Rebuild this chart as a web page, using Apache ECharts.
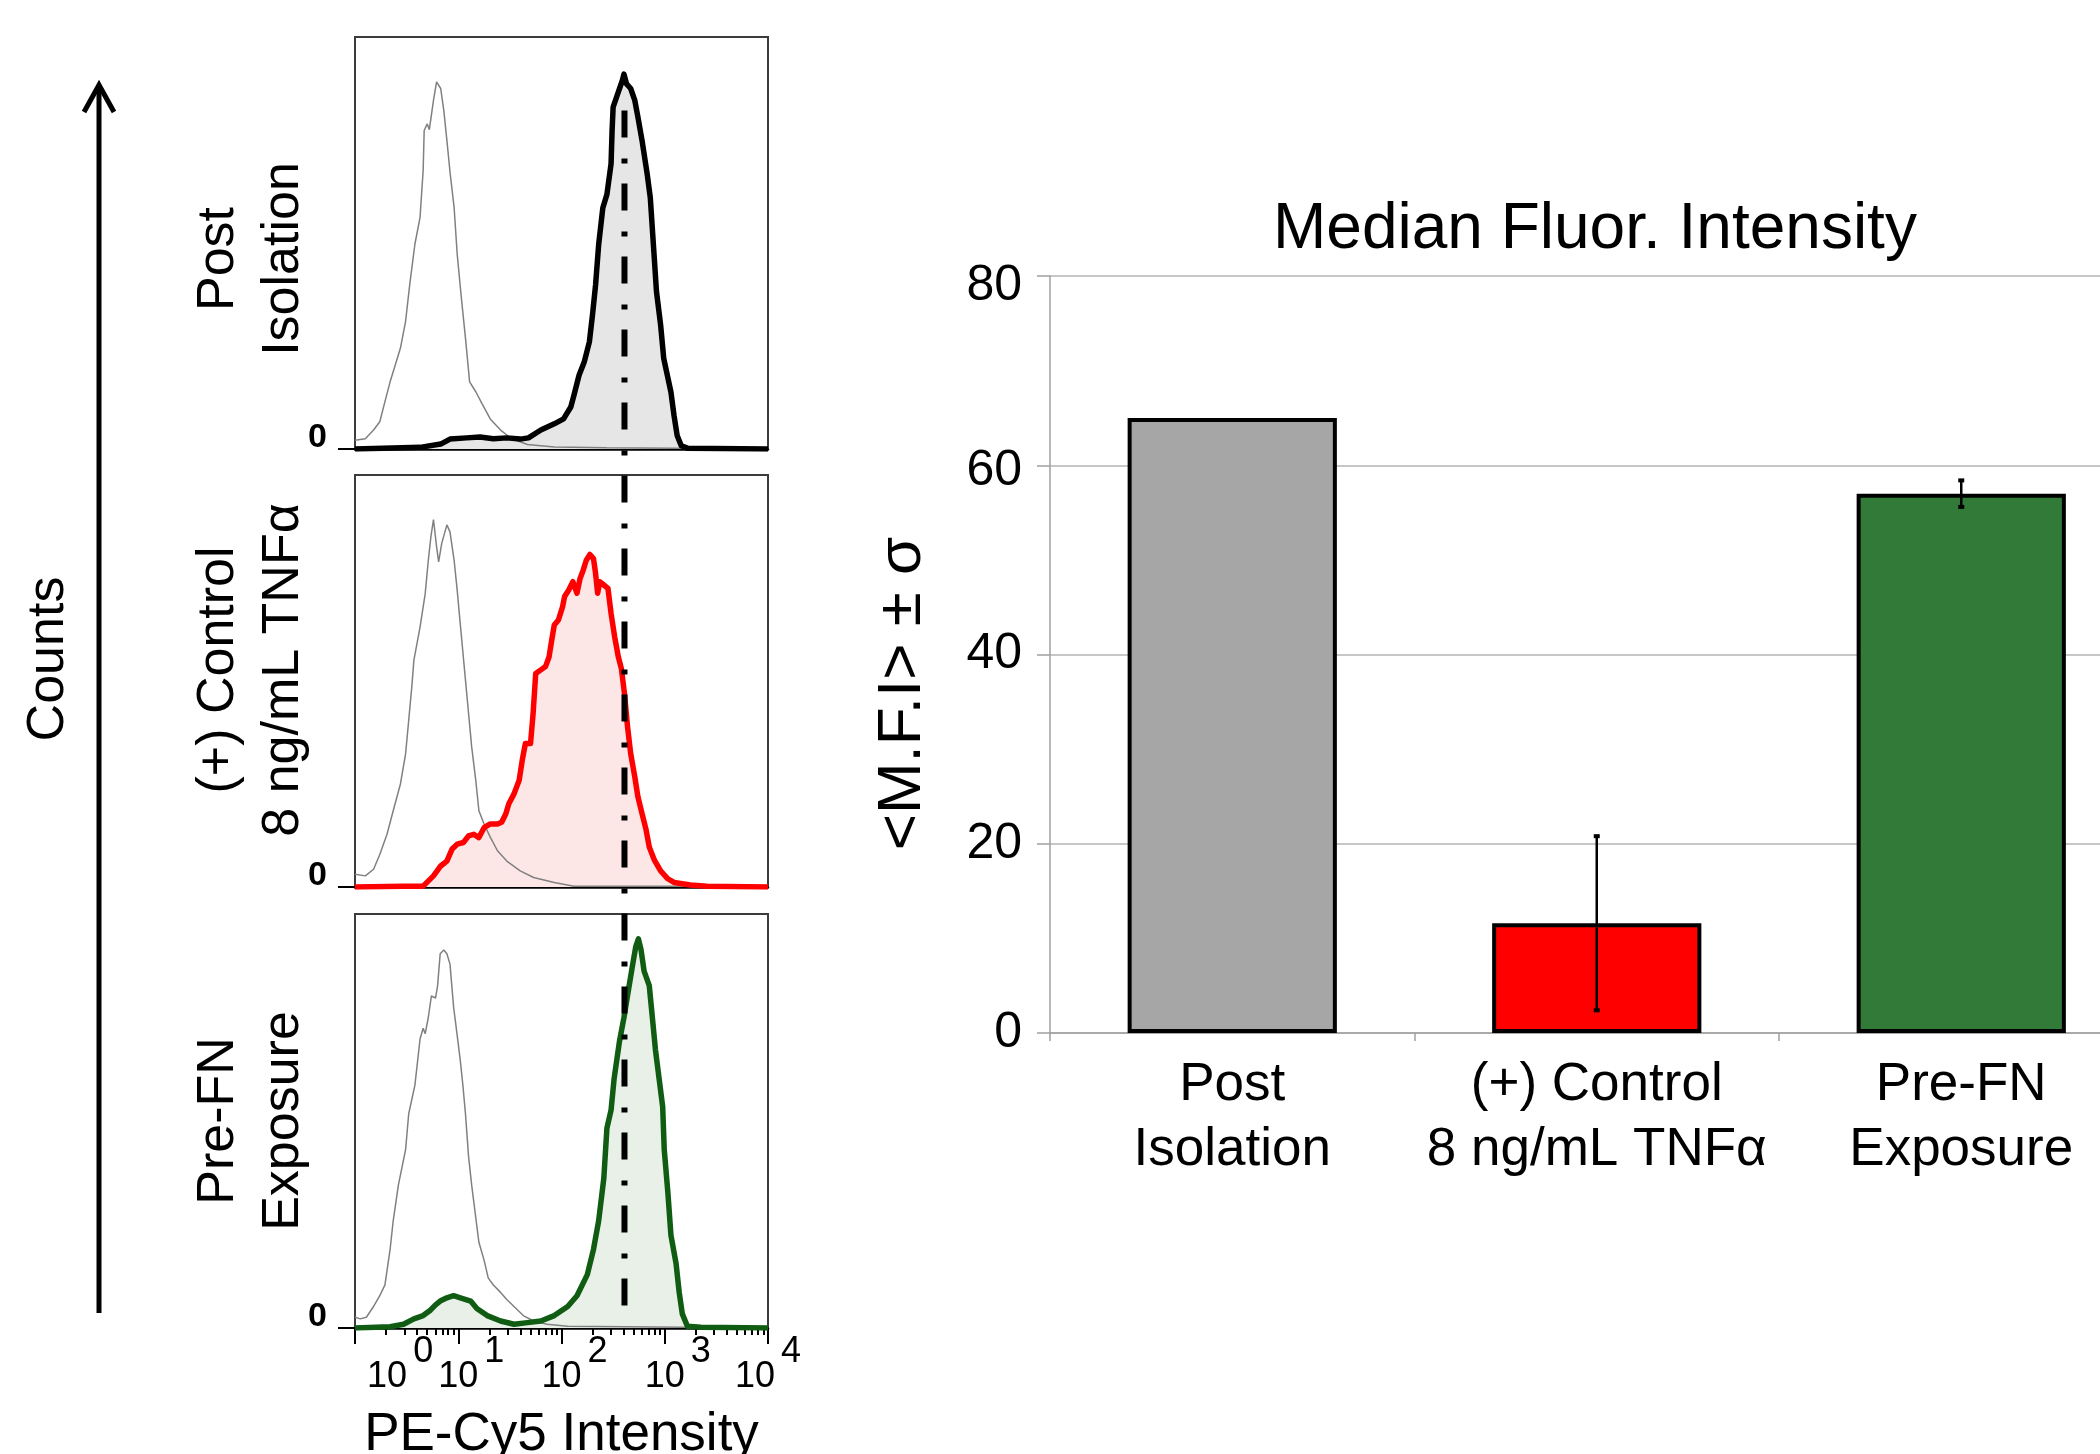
<!DOCTYPE html>
<html><head><meta charset="utf-8">
<script src="https://cdn.jsdelivr.net/npm/echarts@6/dist/echarts.min.js"></script>
<style>html,body{margin:0;padding:0;background:#fff}#c{width:2100px;height:1454px}</style>
</head><body><div id="c"></div><script>
// ---------- data ----------
// Histogram x values are log10(PE-Cy5 intensity); y values are relative counts (box top = 100)
const decadeExponents = [0, 1, 2, 3, 4];
const decadeLabelPositions = [0.437, 1.126, 2.126, 3.126, 4];
const panelNames = ['Post\nIsolation', '(+) Control\n8 ng/mL TNFα', 'Pre-FN\nExposure'];
const medianLogIntensity = 2.61;
const medianLineSpan = [0.943, 0.006];

const postIsolationControl = [[0,2.1],[0.10,2.5],[0.18,4.6],[0.24,6.6],[0.29,11.5],[0.34,16.3],[0.39,20.4],[0.44,24.5],[0.49,31],[0.53,39.9],[0.58,49.7],[0.63,56.2],[0.66,67.6],[0.67,77.3],[0.70,78.9],[0.72,77.5],[0.76,84.6],[0.79,89.1],[0.83,87.5],[0.86,82.2],[0.89,74.9],[0.92,67.3],[0.96,58.6],[0.99,47.2],[1.03,36.7],[1.07,26.9],[1.11,16.3],[1.17,13.9],[1.23,11],[1.31,7.3],[1.41,4.6],[1.51,2.6],[1.67,1.1],[1.93,0.5],[2.44,0.3],[3.09,0.2],[4,0]];
const postIsolationSample = [[0,0],[0.63,0.4],[0.83,1.2],[0.92,2.4],[1.08,2.7],[1.21,2.9],[1.34,2.5],[1.47,2.7],[1.60,2.4],[1.68,2.7],[1.80,4.6],[1.93,6.1],[2.02,7.3],[2.09,10.2],[2.12,13],[2.17,17.9],[2.22,21.1],[2.27,26],[2.30,32.5],[2.33,39.8],[2.36,49.6],[2.40,58.5],[2.44,61.8],[2.48,69.2],[2.49,77.3],[2.50,83],[2.54,85.9],[2.59,89.5],[2.605,91],[2.63,88.6],[2.67,87.5],[2.71,84.6],[2.74,80.6],[2.78,74.9],[2.83,66.7],[2.86,61],[2.89,49.6],[2.92,38.2],[2.96,30.1],[2.99,22],[3.06,13.8],[3.09,8.1],[3.12,3.3],[3.16,0.8],[3.22,0.2],[4,0]];

const tnfControl = [[0,3.1],[0.10,2.7],[0.18,4.3],[0.24,7.9],[0.31,12.8],[0.37,18.5],[0.44,25],[0.49,32.3],[0.52,40.4],[0.55,48.5],[0.57,55],[0.63,63.1],[0.68,71.2],[0.71,79.3],[0.735,85],[0.76,89.2],[0.79,82.6],[0.81,78.9],[0.84,83.4],[0.89,87.9],[0.92,86.2],[0.96,79.3],[0.99,72],[1.01,66.4],[1.04,58.3],[1.07,50.2],[1.10,42.1],[1.13,34],[1.17,25.8],[1.20,18.5],[1.25,15.3],[1.31,12.1],[1.38,8.8],[1.47,6.3],[1.60,3.9],[1.73,2.3],[1.93,1.1],[2.12,0.2],[3.09,0.2],[4,0]];
const tnfSample = [[0,0],[0.47,0.2],[0.66,0.2],[0.76,2.7],[0.83,5.1],[0.89,6.3],[0.94,9.2],[0.99,10.4],[1.05,10.8],[1.10,12.4],[1.15,12.8],[1.20,12],[1.25,14.4],[1.31,15.3],[1.38,15.3],[1.42,15.7],[1.46,17.7],[1.49,20.2],[1.54,22.6],[1.59,25.9],[1.62,30.8],[1.65,34.8],[1.70,34.8],[1.725,42.1],[1.75,51.8],[1.80,52.7],[1.845,53.5],[1.88,55.9],[1.90,59.1],[1.93,63.6],[1.97,64.8],[2.01,68],[2.03,70.5],[2.07,72.1],[2.11,74.1],[2.15,71.3],[2.18,74.9],[2.21,76.9],[2.24,79.3],[2.275,80.7],[2.31,79.7],[2.33,76.1],[2.35,71.3],[2.37,74.1],[2.41,73.3],[2.45,72.5],[2.48,66.4],[2.515,60.7],[2.55,55.9],[2.58,53],[2.61,46.9],[2.64,38.8],[2.67,32.4],[2.71,26.7],[2.74,21.9],[2.78,17.8],[2.82,13.8],[2.85,9.7],[2.90,6.5],[2.96,3.9],[3.03,2],[3.09,1.1],[3.25,0.5],[3.41,0.2],[4,0]];

const preFnControl = [[0,2.6],[0.05,2.2],[0.11,2.6],[0.18,5.2],[0.24,7.8],[0.29,10.4],[0.34,19],[0.37,25.9],[0.42,34.5],[0.49,43.1],[0.52,51.7],[0.55,55.2],[0.58,58.6],[0.63,69.8],[0.66,72.4],[0.68,71.1],[0.71,75],[0.74,80.2],[0.78,79.7],[0.80,82.7],[0.825,90.4],[0.86,91.3],[0.89,90.4],[0.92,87.9],[0.955,77.5],[0.99,70.6],[1.02,64.6],[1.045,58.6],[1.07,51.7],[1.10,41.4],[1.13,34.5],[1.165,27.6],[1.20,20.7],[1.25,16.4],[1.29,12.1],[1.34,10.4],[1.41,8.6],[1.47,6.9],[1.54,5.2],[1.63,3],[1.73,1.7],[1.86,0.9],[2.06,0.4],[4,0]];
const preFnSample = [[0,0],[0.34,0.3],[0.47,0.9],[0.57,2.2],[0.66,3],[0.73,4.3],[0.78,5.6],[0.825,6.5],[0.89,7.3],[0.955,7.8],[1.02,7.3],[1.12,6.5],[1.18,4.7],[1.28,3],[1.41,1.7],[1.54,0.9],[1.67,1.3],[1.80,1.7],[1.93,3],[2.06,5.2],[2.15,7.8],[2.25,12.9],[2.31,19],[2.36,25.9],[2.41,36.2],[2.44,48.3],[2.48,52.6],[2.51,60.3],[2.56,69],[2.605,75],[2.65,81.9],[2.69,87.9],[2.72,92.2],[2.745,94],[2.77,91.4],[2.80,86.2],[2.85,82.7],[2.88,75],[2.91,67.2],[2.945,60.3],[2.98,53.4],[2.995,43.1],[3.03,32.8],[3.06,22.4],[3.11,15.5],[3.14,8.6],[3.17,3.4],[3.22,0.4],[3.35,0.2],[4,0]];

const barCategories = ['Post\nIsolation', '(+) Control\n8 ng/mL TNFα', 'Pre-FN\nExposure'];
const barValues = [65, 11.6, 57];
const barErrors = [0, 9.2, 1.4];

// ---------- styles ----------
const FONT = '"Liberation Sans", Arial, Helvetica, sans-serif';
const panelStyles = [
  {line: '#000000', fill: '#e6e6e6'},
  {line: '#ff0000', fill: '#fde6e6'},
  {line: '#0f5c12', fill: '#e8f0e8'}
];
const barColors = ['#a6a6a6', '#ff0000', '#327a37'];
const panelTops = [37, 475, 914];
const panelH = 412;
const panelLeft = 355, panelW = 413;

const chart = echarts.init(document.getElementById('c'), null, {renderer: 'canvas'});

const grids = [], xAxes = [], yAxes = [], series = [];
panelTops.forEach((t, i) => {
  grids.push({left: panelLeft, top: t, width: panelW, height: i === 2 ? 414 : panelH, show: true,
    borderColor: '#3c3c3c', borderWidth: 2, backgroundColor: 'transparent', outerBoundsMode: 'none', containLabel: false});
});
grids.push({left: panelLeft, top: panelTops[0], width: panelW, height: 1328 - panelTops[0], outerBoundsMode: 'none', containLabel: false});
grids.push({left: 1050, top: 276, right: -43.5, bottom: 421, outerBoundsMode: 'none', containLabel: false});

const minorTicks = [];
for (let k = 0; k < 4; k++) for (let m = 2; m <= 9; m++) minorTicks.push(k + Math.log10(m));

for (let i = 0; i < 3; i++) {
  xAxes.push({
    type: 'value', gridIndex: i, min: 0, max: 4,
    axisLine: {show: true, onZero: false, lineStyle: {color: '#000', width: 2.5}},
    axisTick: i === 2 ? {show: true, customValues: decadeExponents, length: 16, lineStyle: {color: '#000', width: 2}} : {show: false},
    axisLabel: i === 2 ? {
      show: true, customValues: decadeLabelPositions, margin: 6, showMinLabel: true, showMaxLabel: true, hideOverlap: false,
      formatter: v => '{b|10}{s|' + decadeExponents[Math.floor(v + 0.01)] + '}',
      rich: {
        b: {fontSize: 36, fontFamily: FONT, color: '#000', padding: [25, 0, 0, 0]},
        s: {fontSize: 36, fontFamily: FONT, color: '#000', padding: [0, 0, 25, 6]}
      }
    } : {show: false},
    splitLine: {show: false},
    name: i === 2 ? 'PE-Cy5 Intensity' : '', nameLocation: 'middle', nameGap: 81,
    nameTextStyle: {fontSize: 53, fontFamily: FONT, color: '#000'}
  });
}
xAxes.push({
  type: 'value', gridIndex: 2, min: 0, max: 4, position: 'bottom',
  axisLine: {show: false},
  axisTick: {show: true, customValues: minorTicks, length: 7, lineStyle: {color: '#000', width: 2}},
  axisLabel: {show: false}, splitLine: {show: false}
});
xAxes.push({type: 'value', gridIndex: 3, min: 0, max: 4, show: false});
xAxes.push({
  type: 'category', gridIndex: 4, data: barCategories,
  axisLine: {show: true, lineStyle: {color: '#a0a0a0', width: 1.5}},
  axisTick: {show: true, length: 8, alignWithLabel: false, lineStyle: {color: '#a0a0a0', width: 1.5}},
  axisLabel: {fontSize: 53, fontFamily: FONT, color: '#000', lineHeight: 65, margin: 20, interval: 0}
});

for (let i = 0; i < 3; i++) {
  yAxes.push({
    type: 'value', gridIndex: i, min: 0, max: 100,
    axisLine: {show: false}, axisTick: {show: false}, splitLine: {show: false},
    axisLabel: {show: true, customValues: [0], fontSize: 34, fontWeight: 'bold', fontFamily: FONT,
      color: '#000', margin: 28, verticalAlign: 'bottom', lineHeight: 22}
  });
}
yAxes.push({type: 'value', gridIndex: 3, min: 0, max: 1, show: false});
yAxes.push({
  type: 'value', gridIndex: 4, min: 0, max: 80, interval: 20,
  axisLine: {show: true, lineStyle: {color: '#a0a0a0', width: 1.5}},
  axisTick: {show: true, length: 13, lineStyle: {color: '#a0a0a0', width: 1.5}},
  splitLine: {show: true, lineStyle: {color: '#b4b4b4', width: 1.5}},
  axisLabel: {fontSize: 50, fontFamily: FONT, color: '#000', margin: 28,
    formatter: v => v === 80 ? '{lo|80}' : v === 60 ? '{mid|60}' : String(v),
    rich: {
      lo: {fontSize: 50, fontFamily: FONT, color: '#000', padding: [21, 0, 0, 0]},
      mid: {fontSize: 50, fontFamily: FONT, color: '#000', padding: [12, 0, 0, 0]}
    }},
  name: '<M.F.I> ± σ', nameLocation: 'middle', nameGap: 116, nameRotate: 90,
  nameTextStyle: {fontSize: 62, fontFamily: FONT, color: '#000', padding: [0, 78, 0, 0]}
});

const panelData = [
  [postIsolationControl, postIsolationSample],
  [tnfControl, tnfSample],
  [preFnControl, preFnSample]
];
panelData.forEach(([ctrl, sample], i) => {
  const st = panelStyles[i];
  series.push({type: 'line', xAxisIndex: i, yAxisIndex: i, data: sample, symbol: 'none', silent: true,
    lineStyle: {opacity: 0}, areaStyle: {color: st.fill, opacity: 1}, z: 2});
  series.push({type: 'line', xAxisIndex: i, yAxisIndex: i, data: ctrl, symbol: 'none', silent: true,
    lineStyle: {color: '#808080', width: 1.5}, z: 3});
  series.push({type: 'line', xAxisIndex: i, yAxisIndex: i, data: sample, symbol: 'none', silent: true,
    lineStyle: {color: st.line, width: 5.5, join: 'round'}, z: 4});
});
series.push({type: 'line', xAxisIndex: 4, yAxisIndex: 3, symbol: 'none', silent: true, z: 10,
  data: [[medianLogIntensity, medianLineSpan[0]], [medianLogIntensity, medianLineSpan[1]]],
  lineStyle: {color: '#000', width: 6, type: [27, 21, 5, 20], cap: 'butt'}});

series.push({type: 'bar', xAxisIndex: 5, yAxisIndex: 4, barWidth: '57.4%',
  data: barValues.map((v, i) => ({value: v, itemStyle: {color: barColors[i], borderColor: '#000', borderWidth: 4}})),
  z: 2});
series.push({type: 'custom', xAxisIndex: 5, yAxisIndex: 4, z: 5,
  data: barValues.map((v, i) => [i, v, barErrors[i]]),
  renderItem: (params, api) => {
    const i = api.value(0), v = api.value(1), e = api.value(2);
    if (!e) return null;
    const hi = api.coord([i, v + e]), lo = api.coord([i, v - e]);
    return {type: 'group', children: [
      {type: 'line', shape: {x1: hi[0], y1: hi[1], x2: lo[0], y2: lo[1]}, style: {stroke: '#000', lineWidth: 2.5}},
      {type: 'line', shape: {x1: hi[0] - 3, y1: hi[1], x2: hi[0] + 3, y2: hi[1]}, style: {stroke: '#000', lineWidth: 4}},
      {type: 'line', shape: {x1: lo[0] - 3, y1: lo[1], x2: lo[0] + 3, y2: lo[1]}, style: {stroke: '#000', lineWidth: 4}}
    ]};
  }});

const labelY = [259, 670, 1121];
const graphics = panelNames.map((n, i) => ({
  type: 'text', x: 251, y: labelY[i], rotation: Math.PI / 2,
  style: {text: n, fontSize: 52, fontFamily: FONT, fill: '#000', align: 'center', verticalAlign: 'middle',
    textAlign: 'center', textVerticalAlign: 'middle', lineHeight: 65}
}));
graphics.push({type: 'text', x: 49, y: 659, rotation: Math.PI / 2,
  style: {text: 'Counts', fontSize: 52, fontFamily: FONT, fill: '#000', align: 'center', verticalAlign: 'middle',
    textAlign: 'center', textVerticalAlign: 'middle'}});
graphics.push({type: 'line', shape: {x1: 99, y1: 1313, x2: 99, y2: 86}, style: {stroke: '#000', lineWidth: 5}});
graphics.push({type: 'polyline', shape: {points: [[84, 112], [99, 85], [114, 112]]},
  style: {stroke: '#000', lineWidth: 5, fill: null, lineJoin: 'miter'}});
panelTops.forEach((t, i) => {
  const yb = t + (i === 2 ? 414 : panelH);
  graphics.push({type: 'line', shape: {x1: 338, y1: yb, x2: 355, y2: yb}, style: {stroke: '#000', lineWidth: 2}});
});

chart.setOption({
  animation: false,
  backgroundColor: '#fff',
  title: {text: 'Median Fluor. Intensity', left: 1273, top: 198, padding: 0,
    textStyle: {fontSize: 64, fontWeight: 'normal', fontFamily: FONT, color: '#000'}},
  grid: grids, xAxis: xAxes, yAxis: yAxes, series: series, graphic: graphics
});
</script></body></html>
